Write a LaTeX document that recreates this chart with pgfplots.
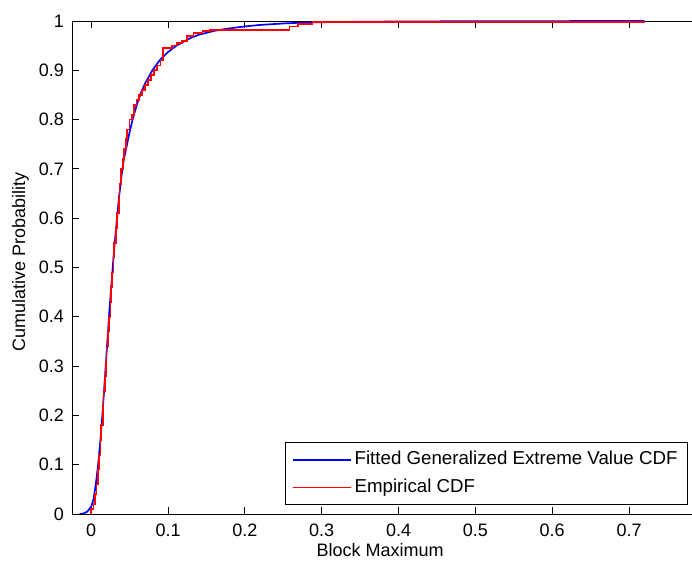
\documentclass[border=0pt]{standalone}
\usepackage{pgfplots}
\pgfplotsset{compat=1.18}
\usepackage{fontspec}
\setmainfont{Liberation Sans}
\begin{document}
\fontsize{18}{21}\selectfont
\begin{tikzpicture}
\path (0,0) rectangle (692pt,561pt);
\begin{pgfinterruptboundingbox}
\begin{axis}[
  at={(72pt,47pt)}, anchor=south west,
  scale only axis, width=620pt, height=493pt,
  xmin=-0.025, xmax=0.782, ymin=0, ymax=1,
  axis x line*=box, axis y line*=left,
  xtick={0,0.1,0.2,0.3,0.4,0.5,0.6,0.7},
  ytick={0,0.1,0.2,0.3,0.4,0.5,0.6,0.7,0.8,0.9,1},
  /pgf/number format/assume math mode=true,
  tick align=inside, major tick length=7pt,
  tick style={black, line width=0.8pt},
  axis line style={black, line width=0.9pt, -},
  tick label style={font=\fontsize{18}{21}\selectfont},
  xticklabel style={yshift=-4pt},
  yticklabel style={xshift=-2pt},
  xlabel={Block Maximum},
  ylabel={Cumulative Probability},
  xlabel style={at={(axis description cs:0.497,-0.0467)}, anchor=north, font=\fontsize{18}{21}\selectfont},
  ylabel style={at={(axis description cs:-0.0597,0.511)}, anchor=south, font=\fontsize{18}{21}\selectfont},
  legend cell align=left,
  legend image code/.code={\draw[#1] (0pt,0pt) -- (58pt,0pt);},
  legend style={at={(axis description cs:0.9935,0.018)}, anchor=south east,
    draw=black, line width=0.9pt, inner xsep=7pt, inner ysep=5.5pt,
    row sep=4pt,
    nodes={inner sep=3pt, text height=13.5pt, text depth=4pt},
    font=\fontsize{18.7}{22}\selectfont},
]
\addplot[color=blue, line width=1.7pt] coordinates {
(-0.015,0) (-0.01,0.001) (-0.005,0.005) (0,0.015) (0.003,0.03) (0.006,0.06)
(0.009,0.1) (0.012,0.15) (0.015,0.21) (0.018,0.28) (0.021,0.35) (0.024,0.42)
(0.027,0.48) (0.030,0.54) (0.033,0.59) (0.036,0.64) (0.039,0.68) (0.042,0.715)
(0.046,0.745) (0.05,0.775) (0.055,0.807) (0.06,0.833) (0.065,0.855) (0.07,0.873)
(0.08,0.901) (0.09,0.922) (0.10,0.937) (0.11,0.949) (0.12,0.958) (0.13,0.966)
(0.14,0.972) (0.15,0.976) (0.16,0.98) (0.18,0.985) (0.20,0.989) (0.22,0.992)
(0.25,0.995) (0.28,0.997) (0.32,0.998) (0.4,0.999) (0.5,0.9995) (0.72,1)
};
\addlegendentry{Fitted Generalized Extreme Value CDF}
\addplot[color=red, line width=1.7pt] coordinates {
(-0.002,0) (0.0,0) (0.0,0.01) (0.003,0.01) (0.003,0.02) (0.005,0.02) (0.005,0.04)
(0.007,0.04) (0.007,0.06) (0.009,0.06) (0.009,0.09) (0.010,0.09) (0.010,0.12)
(0.012,0.12) (0.012,0.15) (0.013,0.15) (0.013,0.18) (0.015,0.18) (0.015,0.22)
(0.016,0.22) (0.016,0.25) (0.018,0.25) (0.018,0.28) (0.019,0.28) (0.019,0.31)
(0.020,0.31) (0.020,0.34) (0.022,0.34) (0.022,0.37) (0.023,0.37) (0.023,0.40)
(0.025,0.40) (0.025,0.43) (0.026,0.43) (0.026,0.46) (0.027,0.46) (0.027,0.49)
(0.029,0.49) (0.029,0.52) (0.030,0.52) (0.030,0.55) (0.032,0.55) (0.032,0.58)
(0.034,0.58) (0.034,0.61) (0.036,0.61) (0.036,0.64) (0.037,0.64) (0.037,0.67)
(0.039,0.67) (0.039,0.70) (0.041,0.70) (0.041,0.72) (0.043,0.72) (0.043,0.74)
(0.045,0.74) (0.045,0.76) (0.047,0.76) (0.047,0.78) (0.050,0.78) (0.050,0.80)
(0.053,0.80) (0.053,0.81) (0.056,0.81) (0.056,0.83) (0.059,0.83) (0.059,0.84)
(0.062,0.84) (0.062,0.85) (0.066,0.85) (0.066,0.86) (0.070,0.86) (0.070,0.87)
(0.074,0.87) (0.074,0.88) (0.078,0.88) (0.078,0.89) (0.082,0.89) (0.082,0.90)
(0.086,0.90) (0.086,0.91) (0.090,0.91) (0.090,0.92) (0.093,0.92) (0.093,0.945)
(0.105,0.945) (0.105,0.95) (0.112,0.95) (0.112,0.955) (0.118,0.955) (0.118,0.96)
(0.125,0.96) (0.125,0.97) (0.133,0.97) (0.133,0.975) (0.145,0.975) (0.145,0.98)
(0.155,0.98) (0.155,0.982) (0.258,0.982) (0.258,0.989) (0.269,0.989) (0.269,0.994)
(0.288,0.994) (0.288,0.998) (0.72,0.998) (0.72,1)
};
\addlegendentry{Empirical CDF}
\end{axis}
\end{pgfinterruptboundingbox}
\end{tikzpicture}
\end{document}
